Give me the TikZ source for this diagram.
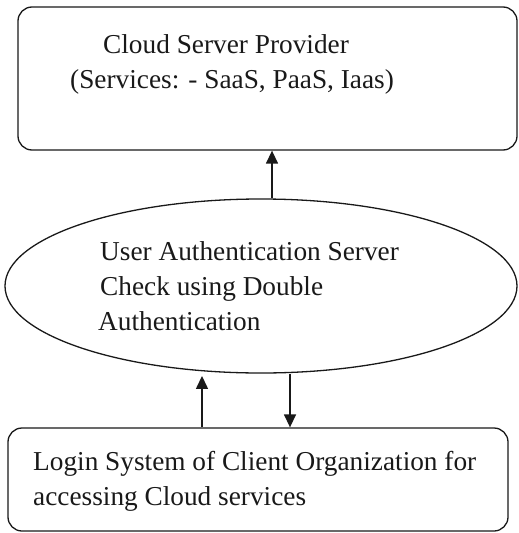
\documentclass[tikz,border=0pt]{standalone}
\usepackage{fontspec}
\setmainfont{Liberation Serif}
\usetikzlibrary{shapes.geometric,arrows.meta}
\begin{document}
\begin{tikzpicture}[x=1pt,y=-1pt,
  shapeline/.style={draw=black!90,line width=1.3pt},
  roundbox/.style={shapeline,rectangle,rounded corners=14pt,inner sep=0pt},
  ellbox/.style={shapeline,ellipse,inner sep=0pt},
  txt/.style={anchor=base west,inner sep=0pt,font=\fontsize{27.3}{32}\selectfont,text=black!90},
  arr/.style={line width=1.4pt,draw=black!90,-{Triangle[length=13pt,width=12pt]}}]
\useasboundingbox (0,0) rectangle (519,533);
\node[roundbox,minimum width=499pt,minimum height=143pt] (top) at (267.5,78.5) {};
\node[ellbox,minimum width=512pt,minimum height=174pt] (ell) at (261,286) {};
\node[roundbox,minimum width=500pt,minimum height=103pt] (bot) at (258,479.5) {};
\node[txt] (t1) at (103,53) {Cloud Server Provider};
\node[txt] (t2) at (70,88) {(Services: - SaaS, PaaS, Iaas)};
\node[txt] (e1) at (100,260) {User Authentication Server};
\node[txt] (e2) at (100,295) {Check using Double};
\node[txt] (e3) at (98,330) {Authentication};
\node[txt] (b1) at (33,470) {Login System of Client Organization for};
\node[txt] (b2) at (33,505) {accessing Cloud services};
\draw[arr] ([xshift=11pt]ell.north) -- ([xshift=11pt]ell.north |- top.south);
\draw[arr] ([xshift=-56pt]bot.north) -- ([xshift=-59pt,yshift=-2.3pt]ell.south);
\draw[arr] ([xshift=29pt,yshift=-0.6pt]ell.south) -- ([xshift=32pt]bot.north);
\end{tikzpicture}
\end{document}
